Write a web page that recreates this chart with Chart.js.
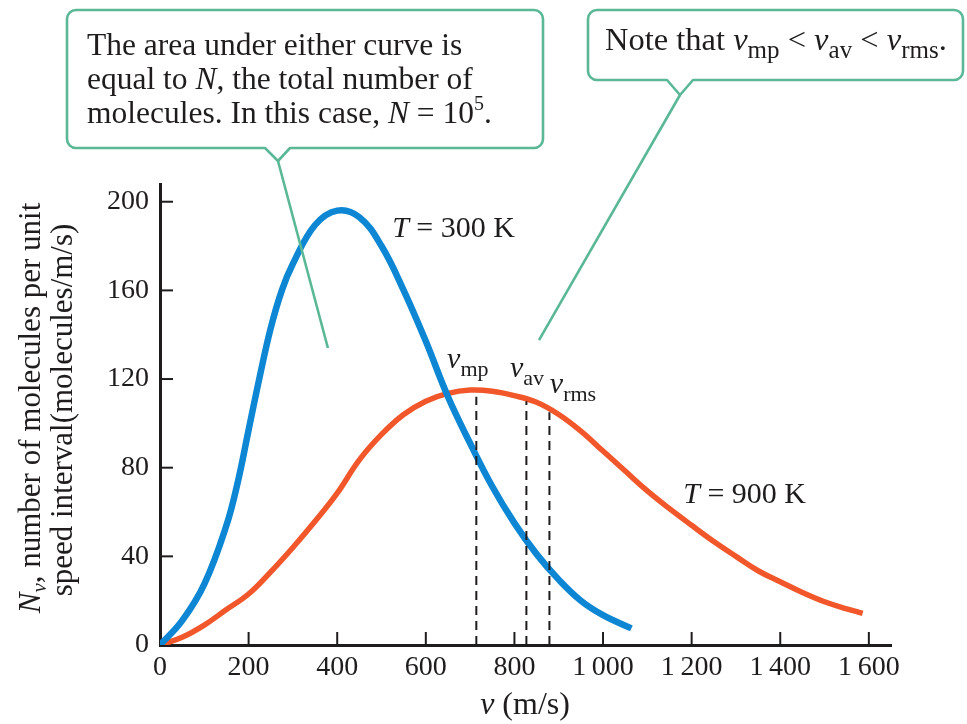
<!DOCTYPE html>
<html lang="en">
<head>
<meta charset="utf-8">
<title>Distribución de velocidades de Maxwell</title>
<script src="https://cdn.jsdelivr.net/npm/chart.js@4.4.1/dist/chart.umd.min.js"></script>
<style>
  html, body { margin: 0; padding: 0; background: #fff; }
</style>
</head>
<body>
<canvas id="grafica" width="967" height="724"></canvas>
<script>
// curva T = 300 K
const velocidad300 = [0, 50, 100, 150, 175, 200, 225, 250, 275, 300, 350, 400, 450, 500, 550, 600, 650, 700, 750, 800, 850, 900, 950, 1000, 1064];
const moleculas300 = [0, 11, 27.5, 54, 73, 97, 121, 143, 160, 172, 189.5, 196, 193, 180, 160, 137, 112, 91, 71.5, 55, 41, 29.5, 20, 13.5, 7.5];

// curva T = 900 K
const velocidad900 = [0, 50, 100, 150, 200, 250, 300, 350, 400, 450, 500, 550, 600, 650, 700, 750, 800, 850, 900, 950, 1000, 1050, 1100, 1150, 1200, 1250, 1300, 1350, 1400, 1450, 1500, 1550, 1586];
const moleculas900 = [0, 3.5, 9, 16, 23, 33, 44, 55.8, 68.5, 83.5, 95, 104, 110, 113.5, 115, 114.5, 112.5, 109.5, 104, 96.5, 87.5, 78.5, 69.5, 61.5, 54, 46.7, 40, 33.5, 28.5, 23.7, 19.5, 16.3, 14.3];

// v_mp, v_av, v_rms para 900 K y altura de las lineas discontinuas
const velocidadesClave = [714, 827, 879];
const alturasClave = [112, 110, 105];

const ticksX = [0, 200, 400, 600, 800, 1000, 1200, 1400, 1600];
const ticksY = [0, 40, 80, 120, 160, 200];

const FUENTE = '"Liberation Serif", "DejaVu Serif", serif';
const TINTA = "#1f1c1d";
const VERDE = "#5ab896";

function fuente(estilo, tam) {
  return estilo + " " + tam + "px " + FUENTE;
}

// tramos: [texto, estilo, tamaño, desplazamiento vertical]
function dibujarTramos(ctx, tramos, x, y, centrado) {
  let ancho = 0;
  tramos.forEach(t => { ctx.font = fuente(t[1], t[2]); ancho += ctx.measureText(t[0]).width; });
  let cx = centrado ? x - ancho / 2 : x;
  tramos.forEach(t => {
    ctx.font = fuente(t[1], t[2]);
    ctx.fillText(t[0], cx, y + (t[3] || 0));
    cx += ctx.measureText(t[0]).width;
  });
}

function globo(ctx, l, t, r, b, n1, n2, punta, fin) {
  const rad = 9;
  ctx.beginPath();
  ctx.moveTo(l + rad, t);
  ctx.lineTo(r - rad, t);
  ctx.arcTo(r, t, r, t + rad, rad);
  ctx.lineTo(r, b - rad);
  ctx.arcTo(r, b, r - rad, b, rad);
  ctx.lineTo(n2, b);
  ctx.lineTo(punta[0], punta[1]);
  ctx.lineTo(n1, b);
  ctx.lineTo(l + rad, b);
  ctx.arcTo(l, b, l, b - rad, rad);
  ctx.lineTo(l, t + rad);
  ctx.arcTo(l, t, l + rad, t, rad);
  ctx.closePath();
  ctx.fillStyle = "#fff";
  ctx.fill();
  ctx.stroke();
  ctx.beginPath();
  ctx.moveTo(punta[0], punta[1]);
  ctx.lineTo(fin[0], fin[1]);
  ctx.stroke();
}

const marcasEjes = {
  id: "marcasEjes",
  afterDatasetsDraw(chart) {
    const { ctx, scales: { x, y } } = chart;
    ctx.save();
    ctx.strokeStyle = TINTA;
    ctx.lineWidth = 2;
    ticksX.forEach(v => {
      if (v === 0) return;
      const px = x.getPixelForValue(v);
      ctx.beginPath();
      ctx.moveTo(px, y.bottom);
      ctx.lineTo(px, y.bottom - 13);
      ctx.stroke();
    });
    ticksY.forEach(v => {
      if (v === 0) return;
      const py = y.getPixelForValue(v);
      ctx.beginPath();
      ctx.moveTo(x.left, py);
      ctx.lineTo(x.left + 13, py);
      ctx.stroke();
    });
    ctx.restore();
  }
};

const anotaciones = {
  id: "anotaciones",
  afterDraw(chart) {
    const { ctx, scales: { x, y } } = chart;
    const px = v => x.getPixelForValue(v);
    const py = n => y.getPixelForValue(n);
    ctx.save();
    ctx.fillStyle = TINTA;
    ctx.textBaseline = "alphabetic";

    // etiquetas dentro del grafico
    dibujarTramos(ctx, [["T", "italic", 30], [" = 300 K", "normal", 30]], px(524), py(184));
    dibujarTramos(ctx, [["T", "italic", 30], [" = 900 K", "normal", 30]], px(1181), py(64));
    dibujarTramos(ctx, [["v", "italic", 30], ["mp", "normal", 22, 8]], px(648), py(125));
    dibujarTramos(ctx, [["v", "italic", 30], ["av", "normal", 22, 8]], px(790), py(121));
    dibujarTramos(ctx, [["v", "italic", 30], ["rms", "normal", 22, 8]], px(880), py(113.7));

    // titulos de los ejes
    dibujarTramos(ctx, [["v", "italic", 32], [" (m/s)", "normal", 32]], 525, 714, true);
    ctx.save();
    ctx.translate(40, 408);
    ctx.rotate(-Math.PI / 2);
    dibujarTramos(ctx, [["N", "italic", 31], ["v", "italic", 21, 6], [", number of molecules per unit", "normal", 31]], 0, 0, true);
    ctx.restore();
    ctx.save();
    ctx.translate(72, 410);
    ctx.rotate(-Math.PI / 2);
    dibujarTramos(ctx, [["speed interval(molecules/m/s)", "normal", 31]], 0, 0, true);
    ctx.restore();

    // globos con comentarios
    ctx.strokeStyle = VERDE;
    ctx.lineWidth = 2.6;
    ctx.lineJoin = "round";
    globo(ctx, 67, 10, 543, 148, 265, 290, [278, 161], [px(379), py(134)]);
    globo(ctx, 588, 10, 963, 80, 667, 693, [680, 95], [px(855.5), py(137.6)]);

    ctx.fillStyle = TINTA;
    dibujarTramos(ctx, [["The area under either curve is", "normal", 31.5]], 87, 55);
    dibujarTramos(ctx, [["equal to ", "normal", 31.5], ["N", "italic", 31.5], [", the total number of", "normal", 31.5]], 87, 89);
    dibujarTramos(ctx, [["molecules. In this case, ", "normal", 31.5], ["N", "italic", 31.5], [" = 10", "normal", 31.5], ["5", "normal", 20, -13], [".", "normal", 31.5]], 87, 123);
    dibujarTramos(ctx, [["Note that ", "normal", 32.5], ["v", "italic", 32.5], ["mp", "normal", 25, 8], [" < ", "normal", 32.5],
      ["v", "italic", 32.5], ["av", "normal", 25, 8], [" < ", "normal", 32.5], ["v", "italic", 32.5], ["rms", "normal", 25, 8], [".", "normal", 32.5]], 605, 50);
    ctx.restore();
  }
};

const puntos = (xs, ys) => xs.map((v, i) => ({ x: v, y: ys[i] }));

const lineasClave = velocidadesClave.map((v, i) => ({
  data: [{ x: v, y: 0 }, { x: v, y: alturasClave[i] }],
  borderColor: TINTA,
  borderWidth: 2,
  borderDash: [9, 6],
  pointRadius: 0,
  tension: 0,
  order: 0
}));

Chart.defaults.font.family = FUENTE;
Chart.defaults.color = TINTA;

new Chart(document.getElementById("grafica"), {
  type: "line",
  data: {
    datasets: [
      {
        label: "T = 300 K",
        data: puntos(velocidad300, moleculas300),
        borderColor: "#0d87d3",
        borderWidth: 6.5,
        pointRadius: 0,
        tension: 0.4,
        order: 1
      },
      {
        label: "T = 900 K",
        data: puntos(velocidad900, moleculas900),
        borderColor: "#f1572b",
        borderWidth: 5.5,
        pointRadius: 0,
        tension: 0.4,
        order: 2
      },
      ...lineasClave
    ]
  },
  options: {
    responsive: false,
    animation: false,
    layout: { padding: { top: 184, right: 76, left: 0, bottom: 0 } },
    plugins: {
      legend: { display: false },
      tooltip: { enabled: false }
    },
    scales: {
      x: {
        type: "linear",
        min: 0,
        max: 1650,
        grid: { display: false, drawTicks: false },
        border: { display: true, color: TINTA, width: 3 },
        afterBuildTicks: s => { s.ticks = ticksX.map(v => ({ value: v })); },
        afterFit: s => { s.height = 79; s.paddingLeft = 0; s.paddingRight = 0; },
        ticks: {
          padding: 6,
          font: { size: 28 },
          color: TINTA,
          callback: v => String(v).replace(/^(\d)(\d{3})$/, "$1\u2009$2")
        }
      },
      y: {
        type: "linear",
        min: 0,
        max: 208,
        grid: { display: false, drawTicks: false },
        border: { display: true, color: TINTA, width: 3 },
        afterBuildTicks: s => { s.ticks = ticksY.map(v => ({ value: v })); },
        afterFit: s => { s.width = 160; s.paddingTop = 0; s.paddingBottom = 0; },
        ticks: {
          padding: 11,
          font: { size: 28 },
          color: TINTA
        }
      }
    }
  },
  plugins: [marcasEjes, anotaciones]
});
</script>
</body>
</html>
